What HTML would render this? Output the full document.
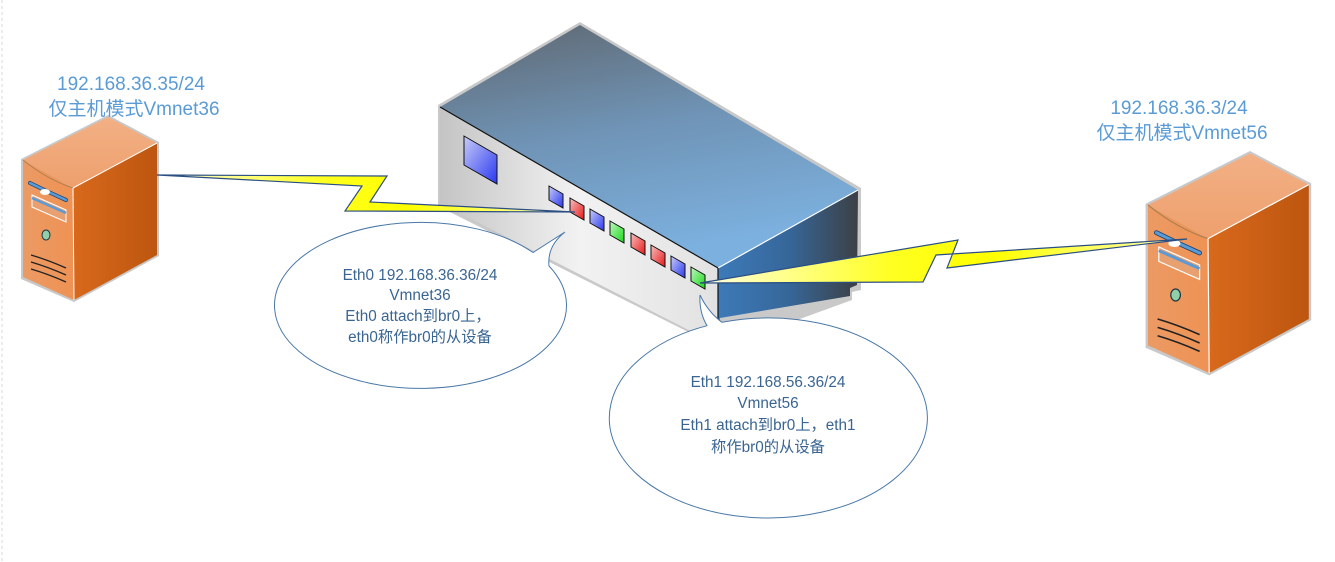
<!DOCTYPE html>
<html><head><meta charset="utf-8"><style>
html,body{margin:0;padding:0;background:#fff;}
svg{display:block;}
</style></head><body>
<svg width="1335" height="562" viewBox="0 0 1335 562" xmlns="http://www.w3.org/2000/svg">
<defs>
<linearGradient id="top" x1="0" y1="0" x2="0.3" y2="1"><stop offset="0" stop-color="#5f676f"/><stop offset="0.5" stop-color="#6f93b5"/><stop offset="1" stop-color="#7cb0de"/></linearGradient>
<linearGradient id="front" x1="0" y1="0" x2="1" y2="0"><stop offset="0" stop-color="#c4c4c4"/><stop offset="0.5" stop-color="#f2f2f2"/><stop offset="1" stop-color="#e2e2e2"/></linearGradient>
<linearGradient id="rside" x1="0" y1="0" x2="1" y2="0"><stop offset="0" stop-color="#3d7ab8"/><stop offset="0.5" stop-color="#36679a"/><stop offset="1" stop-color="#3c4045"/></linearGradient>
<linearGradient id="sfront" x1="0" y1="0" x2="1" y2="0"><stop offset="0" stop-color="#eb9a64"/><stop offset="1" stop-color="#ef9254"/></linearGradient>
<linearGradient id="stop" x1="0" y1="0" x2="0" y2="1"><stop offset="0" stop-color="#f2b085"/><stop offset="1" stop-color="#eea06d"/></linearGradient>
<linearGradient id="sright" x1="0" y1="0" x2="1" y2="0"><stop offset="0" stop-color="#d8691c"/><stop offset="1" stop-color="#bd560f"/></linearGradient>
<linearGradient id="bolt" x1="0" y1="0" x2="1" y2="0"><stop offset="0" stop-color="#ffffe0"/><stop offset="0.4" stop-color="#ffff20"/><stop offset="0.6" stop-color="#ffff00"/><stop offset="1" stop-color="#ffffc0"/></linearGradient>
<linearGradient id="pb" x1="0" y1="0" x2="1" y2="1"><stop offset="0" stop-color="#c8ccf8"/><stop offset="1" stop-color="#2a38f0"/></linearGradient>
<linearGradient id="pr" x1="0" y1="0" x2="1" y2="1"><stop offset="0" stop-color="#f8c0c0"/><stop offset="1" stop-color="#e81818"/></linearGradient>
<linearGradient id="pg" x1="0" y1="0" x2="1" y2="1"><stop offset="0" stop-color="#c0f8c0"/><stop offset="1" stop-color="#18d818"/></linearGradient>
<g id="srv">
 <polygon points="-2,-1 85,-45 136,-18 136,96 51,142 -2,119" fill="#c8c8c8"/>
 <polygon points="0,0 85,-43 134,-17 50,28" fill="url(#stop)"/>
 <polygon points="0,0 50,28 51,140 0,117" fill="url(#sfront)"/>
 <path d="M0,0 Q25,20 50,28" fill="none" stroke="#b08050" stroke-width="1"/>
 <polygon points="50,28 134,-17 134,95 51,140" fill="url(#sright)"/>
 <line x1="50" y1="28" x2="134" y2="-17" stroke="#fff" stroke-width="1"/>
 <line x1="50" y1="28" x2="51" y2="140" stroke="#fff" stroke-width="1"/>
 <path d="M7,23 Q25,32 43,40" stroke="#23466e" stroke-width="4" stroke-linecap="round" fill="none"/>
 <path d="M7,23 Q25,32 43,40" stroke="#5a9ad6" stroke-width="2.5" stroke-linecap="round" fill="none"/>
 <ellipse cx="22" cy="32" rx="5" ry="3" fill="#fff"/>
 <polygon points="9,35 43,50 43,62 9,47" fill="#e9a070" stroke="#fff" stroke-width="1"/>
 <path d="M9,38 L43,53" stroke="#5a9ad6" stroke-width="2.5"/>
 <ellipse cx="23" cy="75" rx="4" ry="5" fill="#8fd0a8" stroke="#234" stroke-width="1"/>
 <path d="M8,95 Q25,100 43,108 M8,102 Q25,107 43,115 M8,109 Q25,114 43,122" stroke="#222" stroke-width="1.3" fill="none"/>
</g>
</defs>
<line x1="2" y1="0" x2="2" y2="562" stroke="#d8d8d8" stroke-dasharray="3,3"/>

<!-- switch -->
<polygon points="438,105 580,22 861,188 861,290 852,292 852,300 720,348 438,206" fill="#c9c9c9"/>
<polygon points="440,107 718,268 718,345 440,203" fill="url(#front)"/>
<polygon points="718,268 858,190 857,285 850,288 850,296 720,318 718,345" fill="url(#rside)"/>
<polygon points="440,107 580,25 858,190 718,268" fill="url(#top)"/>
<line x1="718" y1="268" x2="858" y2="190" stroke="#fff" stroke-width="1.2"/>
<line x1="440" y1="107" x2="718" y2="268" stroke="#111" stroke-width="1.2"/>
<line x1="718" y1="268" x2="718" y2="345" stroke="#111" stroke-width="1.2"/>
<polygon points="464,136 497,155 497,184 464,165" fill="url(#pb)" stroke="#111" stroke-width="1"/>
<g stroke="#111" stroke-width="1">
<polygon points="549,186 563,194 563,208 549,200" fill="url(#pb)"/>
<polygon points="570,198 584,206 584,220 570,212" fill="url(#pr)"/>
<polygon points="590,209 604,217 604,231 590,223" fill="url(#pb)"/>
<polygon points="610,221 624,229 624,243 610,235" fill="url(#pg)"/>
<polygon points="631,233 645,241 645,255 631,247" fill="url(#pr)"/>
<polygon points="651,245 665,253 665,267 651,259" fill="url(#pr)"/>
<polygon points="671,256 685,264 685,278 671,270" fill="url(#pb)"/>
<polygon points="691,267 705,275 705,289 691,281" fill="url(#pg)"/>
</g>

<!-- servers -->
<use href="#srv" transform="translate(23,160)"/>
<use href="#srv" transform="translate(1148,205) scale(1.2)"/>

<!-- bolts -->
<polygon points="157,175 387,176 370,202 575,212 345,211 362,186" fill="url(#bolt)" stroke="#2b4f83" stroke-width="1.2"/>
<polygon points="700,283 958,240 947,268 1187,239 936,255 923,282" fill="url(#bolt)" stroke="#2b4f83" stroke-width="1.2"/>

<!-- callouts -->
<path d="M549,266 A146 83 0 1 1 533,252.5 L565,232 Q547,246 549,266 Z" fill="#fff" stroke="#4a78a8" stroke-width="1"/>
<path d="M722,322.3 A159 100 0 1 1 707,325.7 Q699,312 700,295 Q708,312 722,322.3 Z" fill="#fff" stroke="#4a78a8" stroke-width="1"/>

<g font-family="'Liberation Sans','Noto Sans CJK SC',sans-serif" text-anchor="middle">
<g fill="#5b9bd5" font-size="19">
<text x="131" y="90">192.168.36.35/24</text>
<text x="134" y="115">仅主机模式Vmnet36</text>
<text x="1179" y="114">192.168.36.3/24</text>
<text x="1182" y="139">仅主机模式Vmnet56</text>
</g>
<g fill="#3a6592" font-size="15.3">
<text x="420" y="280">Eth0 192.168.36.36/24</text>
<text x="420" y="300">Vmnet36</text>
<text x="418" y="321">Eth0 attach到br0上，</text>
<text x="420" y="342">eth0称作br0的从设备</text>
<text x="768" y="387">Eth1 192.168.56.36/24</text>
<text x="768" y="408">Vmnet56</text>
<text x="768" y="430">Eth1 attach到br0上，eth1</text>
<text x="768" y="452">称作br0的从设备</text>
</g>
</g>
</svg>
</body></html>
